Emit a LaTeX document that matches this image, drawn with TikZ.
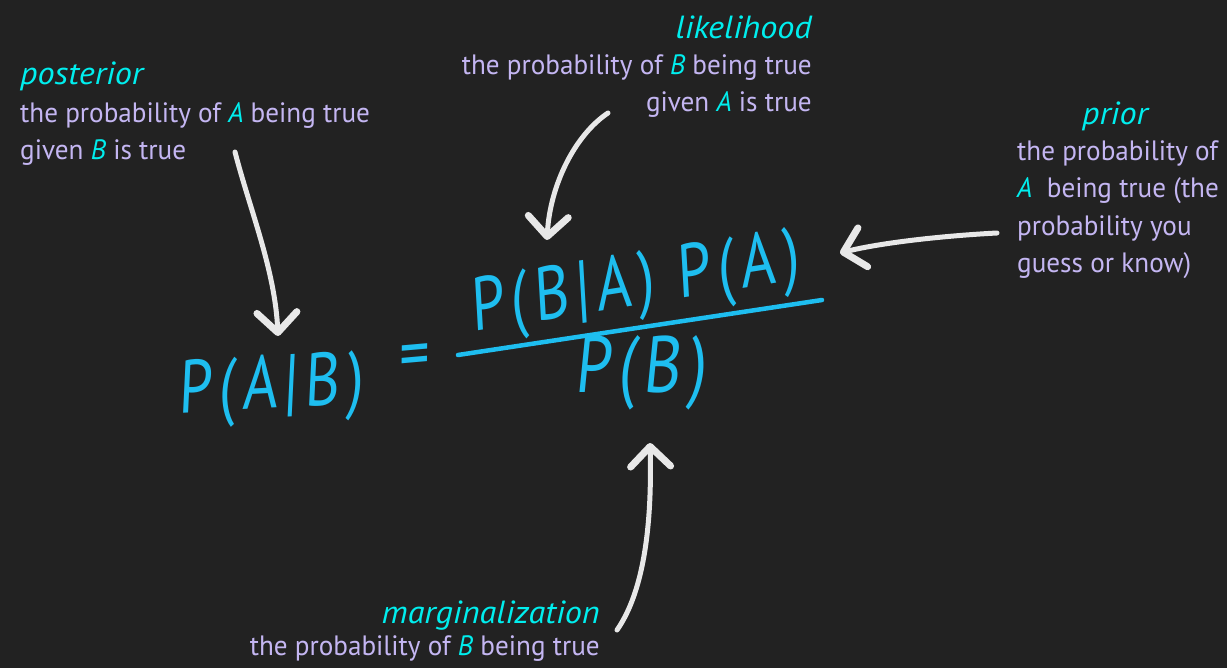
\documentclass[tikz,border=0pt]{standalone}
\usepackage{fontspec}
\setmainfont{PT Sans}[FakeStretch=0.97]
\newfontfamily\titlefont{PT Sans}[FakeStretch=1.07]
\newfontfamily\handfont{PT Sans}[FakeSlant=0.1,FakeStretch=0.8,LetterSpace=9]
\usetikzlibrary{arrows.meta,positioning}
\definecolor{board}{RGB}{34,34,34}
\definecolor{lilac}{RGB}{196,182,242}
\definecolor{aqua}{RGB}{0,238,238}
\definecolor{chalkblue}{RGB}{30,190,240}
\definecolor{chalk}{RGB}{232,232,232}
\newcommand{\hl}[1]{\textcolor{aqua}{\textit{#1}}}

\begin{document}
\begin{tikzpicture}[x=1pt, y=-1pt,
    every node/.style={inner sep=0pt, text=lilac, font=\fontsize{28}{37.5}\selectfont},
    title/.style={text=aqua, font=\titlefont\fontsize{32}{36}\selectfont\itshape},
    hand/.style={text=chalkblue, font=\handfont\fontsize{75}{80}\selectfont},
    chalkarrow/.style={draw=chalk, line width=5pt, line cap=round, -{Straight Barb[length=20pt, width=40pt, line width=7pt, round]}}]
    \fill[board] (0,0) rectangle (1227,668);
    \useasboundingbox (0,0) rectangle (1227,668);
    % labels (multi-line nodes sit on their last baseline)
    \node[title, anchor=base west] (post) at (20,85) {posterior};
    \node[anchor=base west, align=left] (posttxt) at (20,160) {the probability of \hl{A} being true\\given \hl{B} is true};
    \node[title, anchor=base east] (like) at (812,39) {likelihood};
    \node[anchor=base east, align=right] (liketxt) at (812,112) {the probability of \hl{B} being true\\given \hl{A} is true};
    \node[title, anchor=base] (prior) at (1115,125) {prior};
    \node[anchor=base west, align=left] (priortxt) at (1017,273) {the probability of\\\hl{A}\ \ being true (the\\probability you\\guess or know)};
    \node[title, anchor=base east] (marg) at (600,623) {marginalization};
    \node[anchor=base east] (margtxt) at (600,655) {the probability of \hl{B} being true};
    % formula
    \node[hand, rotate=3] (lhs) at (270,390) {P(A|B)};
    \node[hand, rotate=5] (eq) at (413,362) {=};
    \node[hand, rotate=9] (num) at (634,287) {P(B|A)\hspace{24pt}P(A)};
    \node[hand, font=\handfont\fontsize{80}{84}\selectfont] (den) at (640,373) {P(B)};
    \coordinate (barL) at (458,355);
    \coordinate (barR) at (822,300);
    \draw[chalkblue, line width=4.5pt, line cap=round] (barL) -- (barR);
    % arrows
    \coordinate (postS) at (235,152);
    \coordinate (postE) at (278,336);
    \coordinate (likeS) at (608,113);
    \coordinate (likeE) at (547,240);
    \coordinate (priorS) at (997,233);
    \coordinate (priorE) at (840,253);
    \coordinate (margS) at (617,630);
    \coordinate (margE) at (650,443);
    \draw[chalkarrow] (postS) .. controls (250,210) and (275,270) .. (postE);
    \draw[chalkarrow] (likeS) .. controls (575,135) and (550,185) .. (likeE);
    \draw[chalkarrow] (priorS) .. controls (940,236) and (880,243) .. (priorE);
    \draw[chalkarrow] (margS) .. controls (645,590) and (652,520) .. (margE);
\end{tikzpicture}
\end{document}
